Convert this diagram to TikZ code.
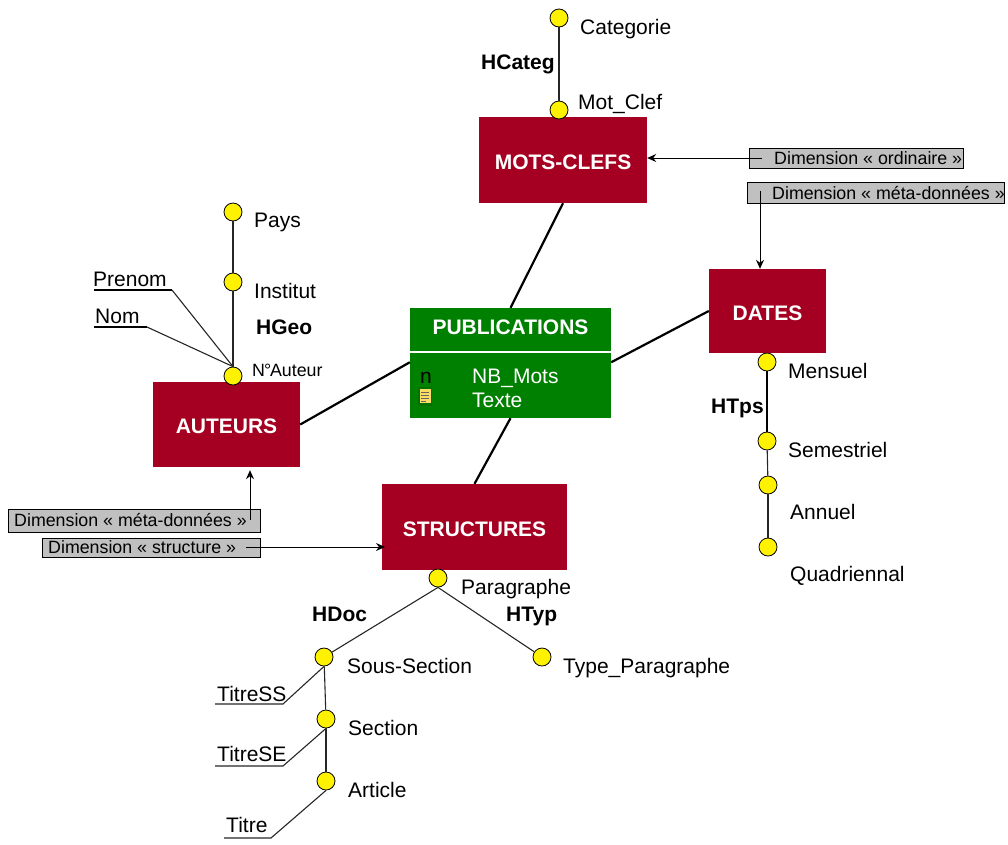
\documentclass[tikz,border=0pt]{standalone}
\usepackage{fontspec}
\setmainfont{Liberation Sans}
\usetikzlibrary{arrows.meta}

\definecolor{dimred}{HTML}{A50021}
\definecolor{factgreen}{HTML}{008000}
\definecolor{notegrey}{HTML}{C0C0C0}

\tikzset{
  dimbox/.style={
    fill=dimred,
    text=white,
    text height=19pt,
    font=\fontsize{21}{24}\selectfont\bfseries,
    inner sep=0pt
  },
  factbox/.style={
    fill=factgreen,
    text=white,
    inner sep=0pt
  },
  level/.style={
    draw,
    circle,
    fill=yellow,
    line width=0.8pt,
    minimum size=18pt,
    inner sep=0pt
  },
  label/.style={
    anchor=base west,
    yshift=-7pt,
    inner sep=0pt,
    font=\fontsize{21}{24}\selectfont
  },
  hier/.style={
    anchor=base west,
    yshift=-7pt,
    inner sep=0pt,
    font=\fontsize{21}{24}\selectfont\bfseries
  },
  note/.style={
    draw,
    fill=notegrey,
    line width=1pt,
    inner sep=0pt
  },
  notetext/.style={
    anchor=base west,
    yshift=-6pt,
    inner sep=0pt,
    font=\fontsize{17.8}{20}\selectfont
  },
  link/.style={line width=2.2pt},
  edge/.style={line width=1.1pt, black!85},
  underline/.style={line width=1.6pt},
  pointer/.style={line width=1pt, -{Stealth[length=9pt,width=8pt,inset=3pt]}}
}

\begin{document}
\begin{tikzpicture}[x=1pt, y=-1pt]
    \useasboundingbox (0,0) rectangle (1008,844);

    % dimensions and the fact
    \node[dimbox, minimum width=168pt, minimum height=86pt] (motsclefs) at (563,160) {MOTS-CLEFS};
    \node[dimbox, minimum width=147pt, minimum height=85pt] (auteurs) at (226.5,424.5) {AUTEURS};
    \node[dimbox, minimum width=117pt, minimum height=84pt] (dates) at (767.5,311) {DATES};
    \node[dimbox, minimum width=185pt, minimum height=86pt] (structures) at (474.5,527) {STRUCTURES};
    \node[factbox, minimum width=201pt, minimum height=43pt, text depth=4pt, font=\fontsize{21}{24}\selectfont\bfseries] (pubhead) at (510.5,329.5) {PUBLICATIONS};
    \node[factbox, minimum width=201pt, minimum height=65pt] (pubbody) at (510.5,385.5) {};

    \draw[link] (pubhead.north) -- (motsclefs.south);
    \draw[link] (pubbody.167) -- (auteurs.east);
    \draw[link] (pubbody.13) -- (dates.west);
    \draw[link] (pubbody.south) -- (structures.north);

    \node[label, text=white] (nbmots) at (472,376) {NB\_Mots};
    \node[label, text=white] (texte) at (472,400) {Texte};
    \node[label] (measure) at (420,376) {n};
    \fill[green!40!black, opacity=.5] (417.5,387) rectangle (432,405.5);
    \fill[yellow!60!orange!60!white] (419.5,389) rectangle (431,403);
    \draw[black!60, line width=.6pt] (421,392) -- (429,392) (421,395) -- (429,395) (421,398) -- (429,398) (421,401) -- (426,401);

    % levels
    \node[level] (categorie) at (559,18) {};
    \node[level] (motclef) at (559,110) {};
    \node[level] (pays) at (233,212) {};
    \node[level] (institut) at (233,282) {};
    \node[level] (numauteur) at (233,376) {};
    \node[level] (mensuel) at (767,362) {};
    \node[level] (semestriel) at (767,441) {};
    \node[level] (annuel) at (768,485) {};
    \node[level] (quadriennal) at (768,547) {};
    \node[level] (paragraphe) at (438,578) {};
    \node[level] (typepar) at (542,657) {};
    \node[level] (soussection) at (324,657) {};
    \node[level] (section) at (326,719) {};
    \node[level] (article) at (326,781) {};

    % hierarchies
    \draw[edge] (categorie) -- (motclef);
    \draw[edge] (pays) -- (institut);
    \draw[edge] (institut) -- (numauteur);
    \draw[link, line width=1.6pt] (mensuel) -- (semestriel);
    \draw[edge] (semestriel) -- (annuel);
    \draw[edge] (annuel) -- (quadriennal);
    \draw[edge] (paragraphe.south) -- (typepar);
    \draw[edge] (paragraphe.south) -- (soussection);
    \draw[edge] (soussection) -- (section);
    \draw[edge] (section) -- (article);

    % level names
    \node[label] (lcategorie) at (580,27) {Categorie};
    \node[label] (lmotclef) at (578,102) {Mot\_Clef};
    \node[label] (lpays) at (254,220) {Pays};
    \node[label] (linstitut) at (254,291) {Institut};
    \node[label, font=\fontsize{17.8}{20}\selectfont] (lnumauteur) at (252,369) {N\kern-.05em°\kern-.07em Auteur};
    \node[label] (lmensuel) at (788,371) {Mensuel};
    \node[label] (lsemestriel) at (788,450) {Semestriel};
    \node[label] (lannuel) at (790,512) {Annuel};
    \node[label] (lquadriennal) at (790,574) {Quadriennal};
    \node[label] (lparagraphe) at (461,587) {Paragraphe};
    \node[label] (ltypepar) at (563,666) {Type\_Paragraphe};
    \node[label] (lsoussection) at (347,666) {Sous-Section};
    \node[label] (lsection) at (348,728) {Section};
    \node[label] (larticle) at (348,790) {Article};

    \node[hier] (hcateg) at (481,62) {HCateg};
    \node[hier] (hgeo) at (256,327) {HGeo};
    \node[hier] (htps) at (711,406) {HTps};
    \node[hier] (hdoc) at (312,614) {HDoc};
    \node[hier] (htyp) at (506,614) {HTyp};

    % attributes
    \node[label] (prenom) at (93,279) {Prenom};
    \node[label] (nom) at (95,316) {Nom};
    \node[label] (titress) at (217,694) {TitreSS};
    \node[label] (titrese) at (217,754) {TitreSE};
    \node[label] (titre) at (226,825) {Titre};

    \coordinate (prenom1) at (94,290);
    \coordinate (prenom2) at (172,290);
    \coordinate (nom1) at (94,327);
    \coordinate (nom2) at (147,327);
    \coordinate (titress1) at (215,704);
    \coordinate (titress2) at (283,704);
    \coordinate (titrese1) at (215,766);
    \coordinate (titrese2) at (283,766);
    \coordinate (titre1) at (224,838);
    \coordinate (titre2) at (271,838);

    \draw[underline] (prenom1) -- (prenom2);
    \draw[edge] (prenom2) -- (numauteur.north);
    \draw[underline] (nom1) -- (nom2);
    \draw[edge] (nom2) -- (numauteur.north);
    \draw[edge] (titress1) -- (titress2) -- (soussection.south);
    \draw[edge] (titrese1) -- (titrese2) -- (section.south);
    \draw[edge] (titre1) -- (titre2) -- (article.south);

    % notes
    \node[note, minimum width=214pt, minimum height=20pt] (noteordinaire) at (856,158) {};
    \node[notetext] (tordinaire) at (774,158) {Dimension « ordinaire »};
    \node[note, minimum width=257pt, minimum height=21pt] (notemetadates) at (875.5,192.5) {};
    \node[notetext] (tmetadates) at (772,193) {Dimension « méta-données »};
    \node[note, minimum width=252pt, minimum height=23pt] (notemetaaut) at (134,520.5) {};
    \node[notetext] (tmetaaut) at (14,520) {Dimension « méta-données »};
    \node[note, minimum width=218pt, minimum height=19pt] (notestruct) at (151,547.5) {};
    \node[notetext] (tstruct) at (48,547) {Dimension « structure »};

    \coordinate (fromordinaire) at (762,158);
    \coordinate (frommetadates) at (760,191);
    \coordinate (frommetaaut) at (250,520);
    \coordinate (fromstruct) at (246,547);
    \coordinate (tostruct) at (385,547);

    \draw[pointer] (fromordinaire) -- (motsclefs.east |- fromordinaire);
    \draw[pointer] (frommetadates) -- (frommetadates |- dates.north);
    \draw[pointer, shorten >=3pt] (frommetaaut) -- (frommetaaut |- auteurs.south);
    \draw[pointer] (fromstruct) -- (tostruct);
  \end{tikzpicture}
\end{document}
